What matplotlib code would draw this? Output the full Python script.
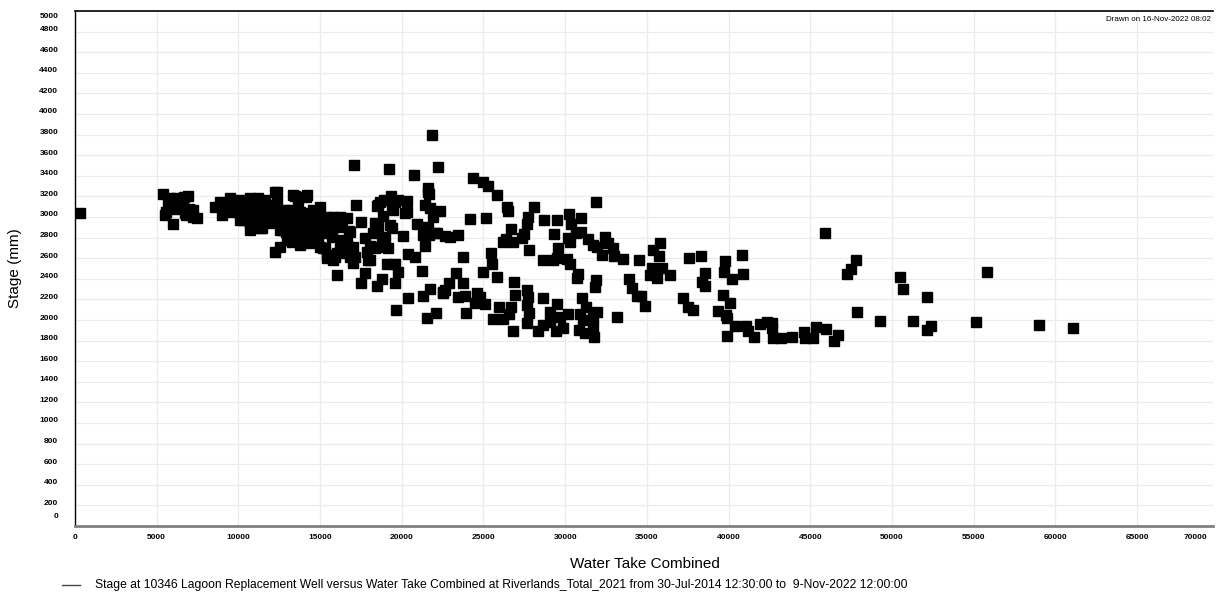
import numpy as np
import matplotlib
matplotlib.use('Agg')
import matplotlib.pyplot as plt
from matplotlib import transforms
from matplotlib.lines import Line2D

# --- Data (water take vs stage in mm) ---

# x < 8000
take_a = [300, 5400, 5500, 5700, 5900, 6000, 6200, 6400, 6500, 6700, 6800, 7000, 7200,
          5600, 6100, 6600, 5800, 7450, 6930, 7240, 6730]
stage_a = [3040, 3220, 3020, 3150, 3100, 2930, 3180, 3150, 3100, 3190, 3020, 3080, 3000,
           3050, 3080, 3160, 3180, 2990, 3200, 3070, 3040]

# 8000 - 12500
take_b = [8570, 8870, 8980, 9490, 9990, 9890, 9590, 10510, 10710, 11220, 11630, 12340, 12340,
          12440, 10510, 10910, 10710, 10300, 10710, 11320, 11730, 12140, 10100, 11120, 11730,
          9180, 9790, 10400, 11020, 11440, 11810, 11200, 11630, 12060, 10100, 10710, 9490,
          11020, 11440]
stage_b = [3101, 3149, 3020, 3182, 3165, 3085, 3052, 3165, 3182, 3182, 3165, 3246, 3149,
           3036, 3068, 3036, 2939, 2971, 2874, 2890, 2939, 3068, 3036, 3101, 3036,
           3117, 3136, 3117, 3136, 3088, 3117, 3020, 2988, 3020, 2971, 3068, 3068,
           2923, 2894]

# 12000 - 18000
take_c = [12340, 12540, 12960, 13260, 12540, 12240, 13050, 13360, 14180, 13570, 14180, 14590,
          13770, 14380, 14590, 14890, 13360, 14590, 14990, 13570, 12960,
          12850, 13160, 13650, 13950, 14260, 12730, 13280, 13770, 14750, 14990, 12910,
          13460, 14140, 14990, 13160, 17070, 17200, 16630, 16790, 17490, 14340, 15200, 15400,
          15910, 16220, 16520, 16730, 16830, 16050, 17030, 17140, 17750, 17850, 17950, 17750,
          17490, 12240, 16220, 15810, 15400, 15100, 15400, 15810, 16320, 16830, 13050, 13770,
          12750, 13360, 13970, 14380, 15200, 15710, 16320, 16630, 17030, 15300, 15400, 16020,
          15810, 16520, 16630, 13770, 14080, 14500, 14870, 13530, 13160, 14010, 14380, 13770,
          13280, 14690]
stage_c = [2939, 2874, 2777, 2761, 2713, 2664, 3020, 3214, 3214, 3068, 3036, 3003,
           2939, 2874, 2842, 2761, 2842, 3068, 2713, 2971, 2971,
           3068, 3020, 3117, 3020, 2952, 2923, 2826, 2923, 3020, 2874, 2855,
           3204, 3197, 3094, 3068, 3503, 3117, 2988, 2867, 2955, 2751, 2697, 2599,
           2615, 2697, 2745, 2713, 2615, 2437, 2551, 2615, 2794, 2664, 2583, 2454,
           2363, 3246, 3004, 3004, 3004, 2939, 2890, 2906, 2906, 2858, 2813, 2794,
           2874, 2906, 2906, 2939, 2842, 2810, 2777, 2745, 2713, 2697, 2632, 2648,
           2583, 2697, 2648, 3052, 3004, 3030, 2894, 2923, 2874, 2855, 2777, 2729,
           2777, 2894]

# 18000 - 24000
take_d = [19240, 20770, 22240, 21830, 21620, 21620, 21680, 18670, 18910, 19320, 19580, 19790,
          20340, 18460, 19380, 19480, 20200, 20340, 21420, 21730, 22340, 21890, 18870, 18360,
          18560, 19280, 19380, 20950, 18260, 18770, 18970, 18360, 20090, 21320, 21620, 21680,
          22140, 22650, 21420, 18050, 18460, 19170, 20400, 20810, 18050, 19070, 19580, 19790,
          21210, 18770, 18460, 19580, 21730, 21320, 20400, 22910, 22540, 19650, 21520, 22090,
          21520, 22030, 23460, 22950, 18560, 23770, 23320, 23720, 22650, 22500]
stage_d = [3463, 3408, 3489, 3794, 3279, 3246, 3224, 3149, 3165, 3204, 3149, 3165,
           3156, 3107, 3094, 3068, 3042, 3049, 3117, 3085, 3062, 2998, 3007, 2945,
           2906, 2923, 2890, 2932, 2842, 2803, 2784, 2697, 2813, 2826, 2890, 2826,
           2842, 2816, 2719, 2719, 2706, 2697, 2641, 2609, 2583, 2544, 2544, 2463,
           2479, 2395, 2334, 2357, 2302, 2233, 2211, 2357, 2276, 2097, 2023, 2065,
           2906, 2842, 2826, 2809, 3117, 2615, 2454, 2363, 2292, 2259]

# 24000 - 36500
take_e = [24340, 24990, 25250, 25810, 26420, 26520, 28110, 24170, 25150, 27740, 27680, 28720,
          29480, 30210, 30990, 31870, 30340, 26680, 27480, 27340, 26170, 26380, 26820, 29310,
          30190, 30290, 30660, 30950, 31420, 31720, 31920, 32230, 32440, 32640, 32900, 32990,
          33520, 29580, 27800, 25440, 25500, 28660, 29270, 29520, 30090, 30290, 34530, 35800,
          35350, 35760, 24990, 25850, 26890, 30800, 30700, 31870, 31830, 33900, 34070, 35290,
          35190, 35600, 35900, 36410, 23460, 23870, 24580, 24790, 24480, 25090, 23930, 25970,
          26660, 26580, 26930, 27680, 27740, 27640, 27800, 27680, 25560, 26170, 26820, 28620,
          28350, 28660, 29070, 29070, 29520, 29440, 29880, 29680, 30190, 31010, 31270, 30910,
          31110, 30870, 31210, 31920, 31720, 31720, 31780, 33190, 34370, 34620, 34880]
stage_e = [3376, 3343, 3301, 3217, 3094, 3062, 3094, 2984, 2988, 2998, 2932, 2968,
           2971, 3027, 2994, 3143, 2932, 2881, 2835, 2794, 2758, 2784, 2761, 2835,
           2794, 2761, 2849, 2859, 2787, 2729, 2706, 2631, 2803, 2751, 2702, 2622,
           2596, 2702, 2680, 2654, 2544, 2583, 2583, 2602, 2590, 2544, 2583, 2752,
           2680, 2622, 2470, 2415, 2366, 2447, 2405, 2389, 2324, 2395, 2308, 2502,
           2437, 2405, 2502, 2437, 2227, 2233, 2259, 2227, 2162, 2153, 2071, 2129,
           2129, 2059, 2243, 2292, 2221, 2146, 2065, 1974, 2007, 2007, 1896, 2211,
           1896, 1952, 1984, 2081, 2156, 1896, 1920, 2032, 2059, 2211, 2124, 2059,
           2000, 1903, 1877, 2081, 2017, 1929, 1838, 2032, 2233, 2233, 2136]

# > 36500
take_f = [37600, 38290, 39760, 40820, 38560, 39740, 40190, 40900, 38370, 38580, 37190, 37540,
          37800, 39640, 40090, 39370, 39840, 39880, 40410, 39880, 41040, 41210, 41550, 41920,
          42370, 42660, 42660, 42740, 43190, 43900, 44610, 44690, 45180, 45330, 45960, 46720,
          46450, 45920, 47780, 47490, 47230, 47840, 49270, 50510, 50690, 52160, 51260, 52160,
          52390, 55830, 55140, 59000, 61100]
stage_f = [2600, 2625, 2576, 2634, 2454, 2463, 2395, 2450, 2372, 2334, 2211, 2123,
           2097, 2246, 2162, 2090, 2049, 2017, 1942, 1848, 1942, 1896, 1832, 1961,
           1981, 1974, 1920, 1829, 1823, 1838, 1881, 1823, 1829, 1935, 1916, 1852,
           1799, 2842, 2583, 2493, 2450, 2075, 1994, 2415, 2298, 2224, 1994, 1903,
           1945, 2463, 1978, 1952, 1925]

water_take = take_a + take_b + take_c + take_d + take_e + take_f
stage = stage_a + stage_b + stage_c + stage_d + stage_e + stage_f

x_ticks = list(range(0, 65001, 5000))
y_ticks = list(range(0, 5001, 200))
legend_text = ('Stage at 10346 Lagoon Replacement Well versus Water Take Combined at '
               'Riverlands_Total_2021 from 30-Jul-2014 12:30:00 to  9-Nov-2022 12:00:00')

# --- Plot ---
plt.rcParams['font.family'] = ['Liberation Sans', 'DejaVu Sans']

W, H = 1219, 592
fig = plt.figure(figsize=(W / 100, H / 100), dpi=100)
ax = fig.add_axes([75 / W, 66 / H, 1138 / W, 515 / H])

ax.plot(water_take, stage, 's', ms=6.5, color='black', mec='black', ls='none', zorder=3)

ax.set_xlim(0, 69650)
ax.set_ylim(0, 5000)
ax.set_xticks(x_ticks)
ax.set_yticks(y_ticks)
ax.grid(True, color='#ebebeb', lw=0.9)
ax.set_axisbelow(True)
ax.tick_params(length=0, labelsize=6)
ax.tick_params(axis='y', pad=12)
ax.tick_params(axis='x', pad=6)

for lbl in ax.get_xticklabels() + ax.get_yticklabels():
    lbl.set_fontweight('bold')

# small vertical nudges of y labels like the original
for val, lbl in zip(y_ticks, ax.get_yticklabels()):
    dy = 3
    if val == 0:
        dy = 11
    elif val == 5000:
        dy = -4
    lbl.set_transform(lbl.get_transform() +
                      transforms.ScaledTranslation(0, dy / 100, fig.dpi_scale_trans))

ax.annotate('70000', xy=(1, 0), xycoords='axes fraction', xytext=(-4, -6),
            textcoords='offset points', ha='right', va='top', fontsize=6, fontweight='bold')

ax.spines['right'].set_visible(False)
ax.spines['top'].set_color('black')
ax.spines['top'].set_linewidth(1.2)
ax.spines['left'].set_color('black')
ax.spines['left'].set_linewidth(1.0)
ax.spines['bottom'].set_color('#808080')
ax.spines['bottom'].set_linewidth(2)

ax.text(0.9985, 0.99, 'Drawn on 16-Nov-2022 08:02', transform=ax.transAxes,
        ha='right', va='top', fontsize=5.8)

fig.text(15 / W, 1 - 268 / H, 'Stage (mm)', rotation=90, ha='center', va='center', fontsize=11)
fig.text(645 / W, 1 - 564 / H, 'Water Take Combined', ha='center', va='center', fontsize=11)

fig.add_artist(Line2D([62 / W, 80 / W], [1 - 585 / H, 1 - 585 / H], color='#444444', lw=1))
fig.text(95 / W, 1 - 585 / H, legend_text, ha='left', va='center', fontsize=8.7)

fig.savefig('out.png', dpi=100)
